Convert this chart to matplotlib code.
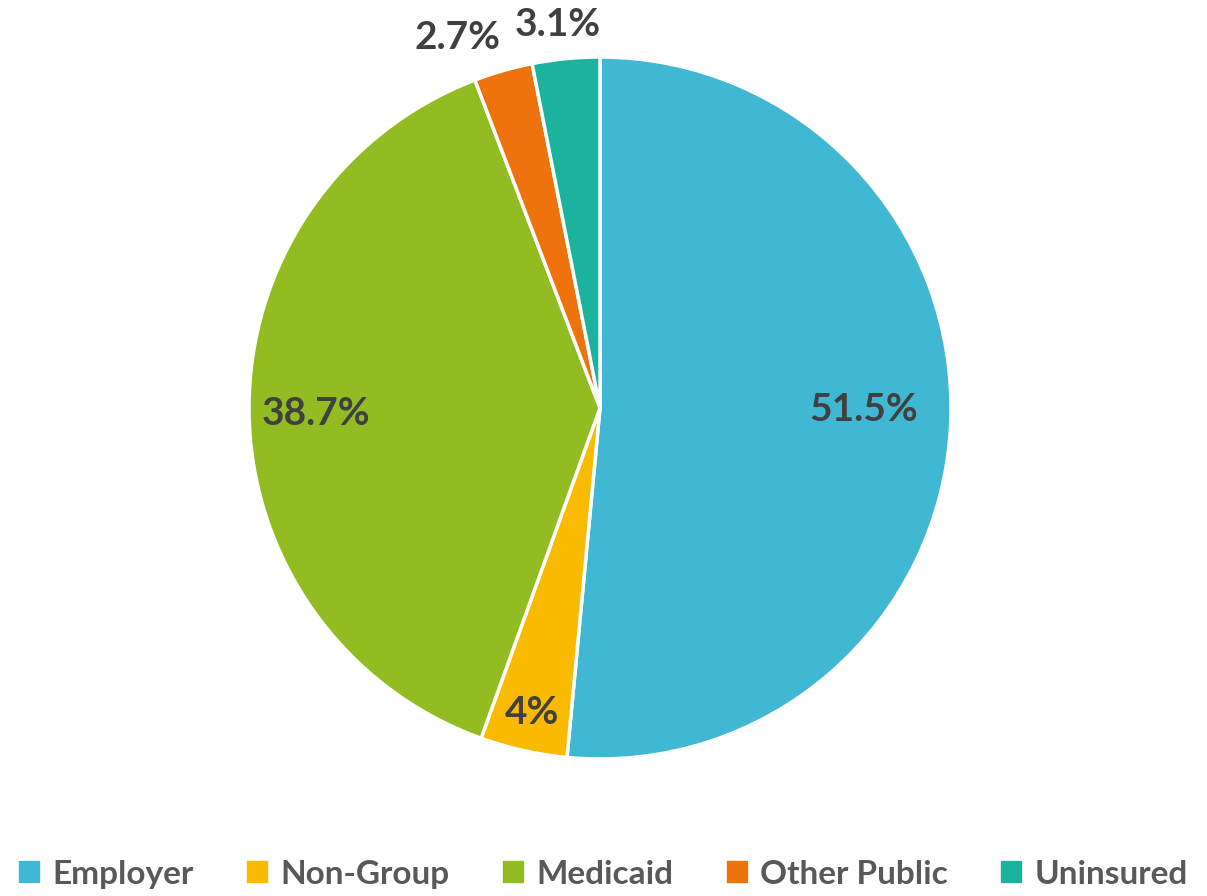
import matplotlib
matplotlib.use('Agg')
import matplotlib.pyplot as plt
import numpy as np

categories = ['Employer', 'Non-Group', 'Medicaid', 'Other Public', 'Uninsured']
shares = [51.5, 4, 38.7, 2.7, 3.1]
labels = ['51.5%', '4%', '38.7%', '2.7%', '3.1%']
colors = ['#41B8D3', '#F9BA00', '#93BC22', '#EE730C', '#1BB29E']

plt.rcParams['font.family'] = ['Lato', 'DejaVu Sans']

fig = plt.figure(figsize=(12.07, 8.96), dpi=100)
W, H = 1207, 896
cx, cy, r = 600, 896 - 408, 351
ax = fig.add_axes([(cx - r) / W, (cy - r) / H, 2 * r / W, 2 * r / H])
wedges, _ = ax.pie(shares, colors=colors, startangle=90, counterclock=False,
                   radius=1, wedgeprops=dict(edgecolor='white', linewidth=2.5))
ax.set_xlim(-1, 1)
ax.set_ylim(-1, 1)
ax.set_aspect('equal')
ax.axis('off')

# label distance as fraction of radius (Excel best-fit look)
label_r = [0.75, 0.89, 0.81, 1.13, 1.10]
angle_shift = [2.3, 0, 0.5, 5, 0.7]
for w, lab, lr, sh in zip(wedges, labels, label_r, angle_shift):
    ang = np.deg2rad((w.theta1 + w.theta2) / 2 + sh)
    ax.text(lr * np.cos(ang), lr * np.sin(ang), lab, ha='center', va='center',
            fontsize=28, fontweight='bold', color='#404040')

handles = [plt.Rectangle((0, 0), 1, 1, color=c) for c in colors]
fig.legend(handles, categories, loc='center', bbox_to_anchor=(0.5, 1 - 874 / H),
           ncol=5, frameon=False, labelcolor='#595959',
           prop=dict(weight='bold', size=24), handlelength=0.6, handleheight=0.6,
           handletextpad=0.4, columnspacing=1.6)

fig.savefig('out.png', dpi=100)
